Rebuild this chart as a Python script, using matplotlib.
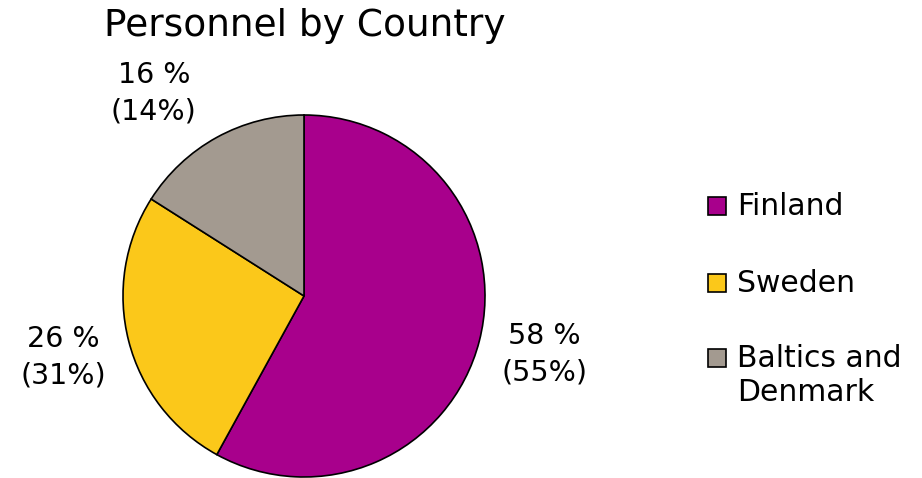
import matplotlib
matplotlib.use('Agg')
import matplotlib.pyplot as plt
from matplotlib.patches import Rectangle

countries = ['Finland', 'Sweden', 'Baltics and\nDenmark']
share = [58, 26, 16]
share_prev = [55, 31, 14]
colors = ['#A8008C', '#FBC81A', '#A39A90']

plt.rcParams['font.family'] = ['DejaVu Sans']

fig = plt.figure(figsize=(9.22, 4.78), dpi=100)

# pie axes: centre ~ (304, 296) px, radius ~ 181 px
W, H = 922, 478
cx, cy, r = 304, 296, 181
ax = fig.add_axes([(cx - r) / W, (H - cy - r) / H, 2 * r / W, 2 * r / H])
labels = [f'{s} %\n({p}%)' for s, p in zip(share, share_prev)]
wedges, texts = ax.pie(share, colors=colors, startangle=90, counterclock=False,
                       labels=labels, labeldistance=1.37,
                       wedgeprops=dict(edgecolor='black', linewidth=1.2),
                       textprops=dict(fontsize=20.5, linespacing=1.4))
for t in texts:
    t.set_ha('center')
    t.set_multialignment('center')
# small label nudges to match the reference
texts[0].set_position((1.33, -0.32))
texts[1].set_position((-1.33, -0.34))
texts[2].set_position((-0.83, 1.12))
ax.set_xlim(-1, 1)
ax.set_ylim(-1, 1)
ax.set_aspect('equal')

fig.text(305 / W, 1 - 26 / H, 'Personnel by Country', ha='center', va='center', fontsize=27)

# legend
leg_y = [206, 283, 358]
for name, c, y in zip(countries, colors, leg_y):
    fig.patches.append(Rectangle((708 / W, 1 - (y + 9) / H), 18 / W, 18 / H,
                                 transform=fig.transFigure, facecolor=c,
                                 edgecolor='black', linewidth=1.2))
    if '\n' in name:
        fig.text(737 / W, 1 - (y - 14) / H, name, ha='left', va='top',
                 fontsize=21.5, linespacing=1.2)
    else:
        fig.text(737 / W, 1 - y / H, name, ha='left', va='center', fontsize=21.5)

fig.savefig('out.png', dpi=100)
